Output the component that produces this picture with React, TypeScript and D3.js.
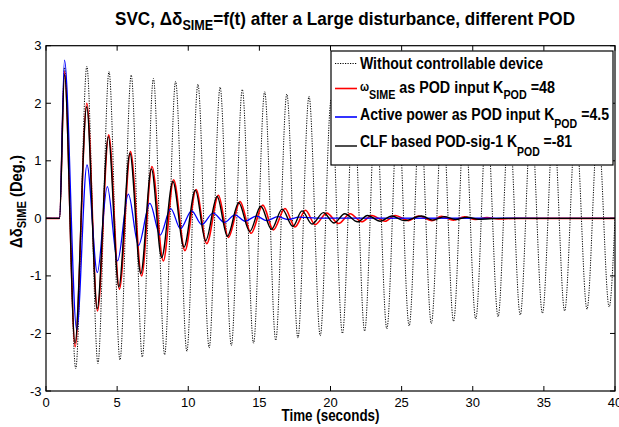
import React from "react";
import * as d3 from "d3";

// ---- data (extrema) ----
const tWithout = [0, 0.95, 1.3, 2.09, 2.87, 3.65, 4.43, 5.2, 5.99, 6.77, 7.55, 8.34, 9.11, 9.9, 10.68, 11.47, 12.24, 13.03, 13.8, 14.59, 15.37, 16.15, 16.93, 17.71, 18.49, 19.28, 20.05, 20.84, 21.62, 22.4, 23.18, 23.96, 24.74, 25.53, 26.3, 27.09, 27.87, 28.65, 29.43, 30.21, 30.99, 31.78, 32.55, 33.34, 34.11, 34.9, 35.68, 36.46, 37.24, 38.03, 38.8, 39.59, 40];
const vWithout = [0, 0, 2.62, -2.61, 2.64, -2.52, 2.55, -2.46, 2.49, -2.41, 2.43, -2.37, 2.38, -2.31, 2.33, -2.25, 2.28, -2.21, 2.24, -2.17, 2.2, -2.12, 2.16, -2.08, 2.12, -2.04, 2.07, -2.0, 2.03, -1.96, 1.99, -1.92, 1.95, -1.87, 1.91, -1.83, 1.87, -1.79, 1.83, -1.75, 1.79, -1.71, 1.75, -1.68, 1.72, -1.65, 1.68, -1.61, 1.65, -1.58, 1.62, -1.54, 0.0];

const tOmega = [0, 0.95, 1.3, 2.05, 2.87, 3.62, 4.41, 5.16, 5.94, 6.72, 7.45, 8.25, 8.97, 9.77, 10.55, 11.3, 12.12, 12.82, 13.64, 14.42, 15.24, 15.98, 16.8, 17.5, 18.25, 18.92, 19.74, 20.56, 21.38, 22.2, 22.9, 23.84, 24.54, 25.48, 26.2, 27.12, 27.8, 28.64, 29.4, 30.2, 31.0, 31.8, 33.0, 40];
const vOmega = [0, 0, 2.55, -2.23, 2.0, -1.61, 1.45, -1.23, 1.16, -1.0, 0.9, -0.74, 0.67, -0.56, 0.5, -0.44, 0.4, -0.33, 0.29, -0.26, 0.23, -0.2, 0.17, -0.15, 0.14, -0.11, 0.09, -0.09, 0.08, -0.06, 0.05, -0.05, 0.05, -0.04, 0.04, -0.04, 0.035, -0.03, 0.025, -0.02, 0.015, -0.01, 0.0, 0.0];

const tActive = [0, 0.95, 1.3, 2.16, 2.88, 3.61, 4.31, 5.03, 5.79, 6.5, 7.3, 8.02, 8.77, 9.45, 10.24, 10.95, 11.75, 12.55, 13.28, 14.0, 14.78, 15.52, 16.3, 17.0, 17.8, 19.0, 40];
const vActive = [0, 0, 2.75, -1.94, 0.93, -0.94, 0.55, -0.74, 0.42, -0.47, 0.26, -0.29, 0.17, -0.18, 0.13, -0.11, 0.09, -0.07, 0.06, -0.05, 0.04, -0.04, 0.03, -0.02, 0.02, 0.005, 0.0];

const tCLF = [0, 0.95, 1.3, 2.04, 2.86, 3.6, 4.38, 5.12, 5.9, 6.66, 7.41, 8.13, 8.92, 9.7, 10.5, 11.22, 12.03, 12.75, 13.55, 14.32, 15.1, 15.85, 16.6, 17.35, 18.0, 18.7, 19.5, 20.25, 21.0, 21.9, 22.6, 23.5, 24.3, 25.2, 26.4, 27.2, 28.0, 28.8, 29.6, 30.4, 32.0, 40];
const vCLF = [0, 0, 2.5, -2.17, 1.94, -1.57, 1.42, -1.19, 1.13, -0.96, 0.86, -0.68, 0.64, -0.5, 0.49, -0.39, 0.38, -0.31, 0.27, -0.23, 0.21, -0.19, 0.16, -0.14, 0.13, -0.1, 0.1, -0.08, 0.08, -0.06, 0.05, -0.05, 0.04, -0.04, 0.04, -0.03, 0.03, -0.02, 0.02, -0.015, 0.0, 0.0];

const xTicks = [0, 5, 10, 15, 20, 25, 30, 35, 40];
const yTicks = [-3, -2, -1, 0, 1, 2, 3];

const FONT = "'Liberation Sans Narrow', 'Arial Narrow', 'Liberation Sans', Arial, sans-serif";

export default function App() {
  const W = 619, H = 427;
  const x = d3.scaleLinear().domain([0, 40]).range([46, 615]);
  const y = d3.scaleLinear().domain([-3, 3]).range([391, 45.7]);
  const [x0, x1] = x.range();
  const [y0, y1] = y.range();

  const mk = (ts: number[], vs: number[]) =>
    d3.line<number>()
      .x((_, i) => x(ts[i]))
      .y((d) => y(d))
      .curve(d3.curveMonotoneX)(vs) || "";

  const series = [
    { d: mk(tWithout, vWithout), color: "#000", w: 1, dash: "1.2 1.3" },
    { d: mk(tOmega, vOmega), color: "#ff0000", w: 1.6, dash: undefined },
    { d: mk(tActive, vActive), color: "#0000ff", w: 1.3, dash: undefined },
    { d: mk(tCLF, vCLF), color: "#000", w: 1.4, dash: undefined },
  ];

  const tickLen = 5;
  const lgX = 331, lgY = 51, lgW = 282, lgH = 114;

  return (
    <svg width={W} height={H} style={{ position: "absolute", left: 0, top: 0, background: "#fff" }}
      fontFamily={FONT}>
      <rect x={0} y={0} width={W} height={H} fill="#fff" />
      {/* title */}
      <text x={115} y={25} fontSize={19} fontWeight="bold" textLength={460} lengthAdjust="spacingAndGlyphs">
        <tspan>SVC, Δδ</tspan>
        <tspan fontSize={14} dy={5}>SIME</tspan>
        <tspan dy={-5}>=f(t) after a Large disturbance, different POD</tspan>
      </text>

      <defs>
        <clipPath id="plotclip">
          <rect x={x0} y={y1} width={x1 - x0} height={y0 - y1} />
        </clipPath>
      </defs>

      <g clipPath="url(#plotclip)">
        {series.map((s, i) => (
          <path key={i} d={s.d} fill="none" stroke={s.color} strokeWidth={s.w}
            strokeDasharray={s.dash} strokeLinejoin="round" />
        ))}
      </g>

      {/* frame */}
      <rect x={x0} y={y1} width={x1 - x0} height={y0 - y1} fill="none" stroke="#000" strokeWidth={1.2} />

      {/* x ticks */}
      {xTicks.map((t) => (
        <g key={"x" + t}>
          <line x1={x(t)} x2={x(t)} y1={y0} y2={y0 - tickLen} stroke="#000" />
          <line x1={x(t)} x2={x(t)} y1={y1} y2={y1 + tickLen} stroke="#000" />
          <text x={x(t)} y={407} fontSize={13} textAnchor="middle">{t}</text>
        </g>
      ))}
      {/* y ticks */}
      {yTicks.map((t) => (
        <g key={"y" + t}>
          <line x1={x0} x2={x0 + tickLen} y1={y(t)} y2={y(t)} stroke="#000" />
          <line x1={x1} x2={x1 - tickLen} y1={y(t)} y2={y(t)} stroke="#000" />
          <text x={41.5} y={y(t) + 4.5} fontSize={13} textAnchor="end">{t}</text>
        </g>
      ))}

      {/* axis labels */}
      <text x={(x0 + x1) / 2} y={421} fontSize={16} fontWeight="bold" textAnchor="middle"
        textLength={98} lengthAdjust="spacingAndGlyphs">Time (seconds)</text>
      <text transform={`translate(22, 248) rotate(-90)`} fontSize={16} fontWeight="bold"
        textLength={93} lengthAdjust="spacingAndGlyphs">
        <tspan>Δδ</tspan>
        <tspan fontSize={12} dy={4}>SIME</tspan>
        <tspan dy={-4}> (Deg.)</tspan>
      </text>

      {/* legend */}
      <rect x={lgX} y={lgY} width={lgW} height={lgH} fill="#fff" stroke="#000" strokeWidth={1.2} />
      <line x1={335} x2={357} y1={63.5} y2={63.5} stroke="#000" strokeWidth={1} strokeDasharray="1.2 1.3" />
      <line x1={335} x2={357} y1={88.5} y2={88.5} stroke="#ff0000" strokeWidth={1.6} />
      <line x1={335} x2={357} y1={117} y2={117} stroke="#0000ff" strokeWidth={1.6} />
      <line x1={335} x2={357} y1={146} y2={146} stroke="#000" strokeWidth={1.4} />
      <g fontWeight="bold" fontSize={16}>
        <text x={360} y={69} textLength={183} lengthAdjust="spacingAndGlyphs">Without controllable device</text>
        <text x={360} y={93} textLength={195} lengthAdjust="spacingAndGlyphs">
          <tspan fontSize={12} dy={-2}>ω</tspan>
          <tspan fontSize={12} dy={8}>SIME</tspan>
          <tspan dy={-6}> as POD input K</tspan>
          <tspan fontSize={12} dy={6}>POD</tspan>
          <tspan dy={-6}> =48</tspan>
        </text>
        <text x={360} y={120} textLength={249} lengthAdjust="spacingAndGlyphs">
          <tspan>Active power as POD input K</tspan>
          <tspan fontSize={12} dy={8}>POD</tspan>
          <tspan dy={-8}> =4.5</tspan>
        </text>
        <text x={360} y={147} textLength={212} lengthAdjust="spacingAndGlyphs">
          <tspan>CLF based POD-sig-1 K</tspan>
          <tspan fontSize={12} dy={9}>POD</tspan>
          <tspan dy={-9}> =-81</tspan>
        </text>
      </g>
    </svg>
  );
}
